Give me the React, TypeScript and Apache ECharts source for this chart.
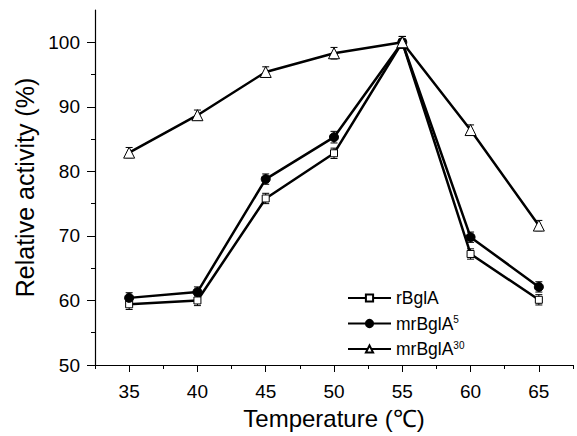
import React, { useEffect, useRef } from "react";
import * as echarts from "echarts";

const temperatures = [35, 40, 45, 50, 55, 60, 65];
const rBglA = [59.4, 60.0, 75.8, 82.8, 100, 67.2, 60.1];
const mrBglA5 = [60.4, 61.3, 78.8, 85.3, 100, 69.8, 62.1];
const mrBglA30 = [82.9, 88.7, 95.4, 98.3, 100, 86.4, 71.6];
const rBglAErr = [0.8, 0.8, 0.8, 0.8, 0.9, 0.8, 0.8];
const mrBglA5Err = [0.8, 0.8, 0.8, 0.9, 0.9, 0.8, 0.8];
const mrBglA30Err = [0.8, 0.8, 0.8, 0.9, 0.9, 0.8, 0.8];
const xMajorTicks = [35, 40, 45, 50, 55, 60, 65];
const xMinorTicks = [32.5, 37.5, 42.5, 47.5, 52.5, 57.5, 62.5, 67.5];
const yMajorTicks = [50, 60, 70, 80, 90, 100];
const yMinorTicks = [55, 65, 75, 85, 95];

const FONT = "Liberation Sans, Arial, sans-serif";

function pairs(vals: number[]) {
  return temperatures.map((t, i) => [t, vals[i]]);
}
function errData(vals: number[], errs: number[]) {
  return temperatures.map((t, i) => [t, vals[i], errs[i]]);
}

function errorSeries(vals: number[], errs: number[]) {
  return {
    type: "custom",
    xAxisIndex: 0,
    yAxisIndex: 0,
    z: 1,
    silent: true,
    data: errData(vals, errs),
    renderItem: (params: any, api: any) => {
      const x = api.value(0);
      const y = api.value(1);
      const e = api.value(2);
      const top = api.coord([x, y + e]);
      const bot = api.coord([x, y - e]);
      const w = 3.5;
      const style = { stroke: "#000", lineWidth: 1 };
      return {
        type: "group",
        children: [
          { type: "line", shape: { x1: top[0], y1: top[1], x2: bot[0], y2: bot[1] }, style },
          { type: "line", shape: { x1: top[0] - w, y1: top[1], x2: top[0] + w, y2: top[1] }, style },
          { type: "line", shape: { x1: bot[0] - w, y1: bot[1], x2: bot[0] + w, y2: bot[1] }, style },
        ],
      };
    },
  };
}

const legendNames: Record<string, string> = {
  rBglA: "rBglA",
  mrBglA5: "mrBglA{sup|5}",
  mrBglA30: "mrBglA{sup|30}",
};

export default function App() {
  const ref = useRef<HTMLDivElement>(null);
  useEffect(() => {
    const chart = echarts.init(ref.current!, null, { renderer: "svg" });
    const axisCommon = {
      type: "value",
      axisLine: { show: true, lineStyle: { color: "#000", width: 1.2 } },
      splitLine: { show: false },
    };
    chart.setOption({
      animation: false,
      backgroundColor: "#fff",
      grid: { left: 95, right: 4, top: 10, bottom: 71, containLabel: false },
      legend: {
        data: ["rBglA", "mrBglA5", "mrBglA30"],
        orient: "vertical",
        left: 347,
        top: 289,
        padding: 0,
        itemWidth: 43,
        itemHeight: 9,
        itemGap: 7.5,
        formatter: (name: string) => legendNames[name],
        textStyle: {
          fontFamily: FONT,
          fontSize: 17.5,
          lineHeight: 18,
          color: "#000",
          rich: {
            sup: { fontSize: 10, lineHeight: 8, verticalAlign: "top", padding: [0, 0, 3, 0], fontFamily: FONT, color: "#000" },
          },
        },
      },
      xAxis: [
        {
          ...axisCommon,
          min: 32.5,
          max: 67.5,
          interval: 2.5,
          name: "Temperature (℃)",
          nameLocation: "middle",
          nameGap: 41,
          nameTextStyle: { fontFamily: FONT, fontSize: 24, color: "#000" },
          axisTick: { show: true, length: 7, customValues: xMajorTicks, lineStyle: { color: "#000" } },
          axisLabel: { customValues: xMajorTicks, fontFamily: FONT, fontSize: 19, color: "#000", margin: 17 },
        },
        {
          ...axisCommon,
          min: 32.5,
          max: 67.5,
          interval: 2.5,
          position: "bottom",
          axisLine: { show: false },
          axisTick: { show: true, length: 4, customValues: xMinorTicks, lineStyle: { color: "#000" } },
          axisLabel: { show: false },
        },
      ],
      yAxis: [
        {
          ...axisCommon,
          min: 50,
          max: 105,
          interval: 10,
          name: "Relative activity (%)",
          nameLocation: "middle",
          nameGap: 57,
          nameTextStyle: { fontFamily: FONT, fontSize: 25, color: "#000" },
          axisTick: { show: true, length: 8, customValues: yMajorTicks, lineStyle: { color: "#000" } },
          axisLabel: { customValues: yMajorTicks, fontFamily: FONT, fontSize: 19, color: "#000", margin: 15 },
        },
        {
          ...axisCommon,
          min: 50,
          max: 105,
          interval: 10,
          position: "left",
          axisLine: { show: false },
          axisTick: { show: true, length: 4, customValues: yMinorTicks, lineStyle: { color: "#000" } },
          axisLabel: { show: false },
        },
      ],
      series: [
        errorSeries(rBglA, rBglAErr),
        errorSeries(mrBglA5, mrBglA5Err),
        errorSeries(mrBglA30, mrBglA30Err),
        {
          name: "rBglA",
          type: "line",
          data: pairs(rBglA),
          symbol: "rect",
          symbolSize: 7,
          z: 3,
          lineStyle: { color: "#000", width: 2.5 },
          itemStyle: { color: "#fff", borderColor: "#000", borderWidth: 1 },
        },
        {
          name: "mrBglA5",
          type: "line",
          data: pairs(mrBglA5),
          symbol: "circle",
          symbolSize: 9,
          z: 3,
          lineStyle: { color: "#000", width: 2.5 },
          itemStyle: { color: "#000", borderColor: "#000", borderWidth: 1 },
        },
        {
          name: "mrBglA30",
          type: "line",
          data: pairs(mrBglA30),
          symbol: "triangle",
          symbolSize: 11,
          z: 3,
          lineStyle: { color: "#000", width: 2.5 },
          itemStyle: { color: "#fff", borderColor: "#000", borderWidth: 1 },
        },
      ],
    });
    return () => chart.dispose();
  }, []);
  return <div ref={ref} style={{ width: 577, height: 436, position: "absolute", left: 0, top: 0 }} />;
}
